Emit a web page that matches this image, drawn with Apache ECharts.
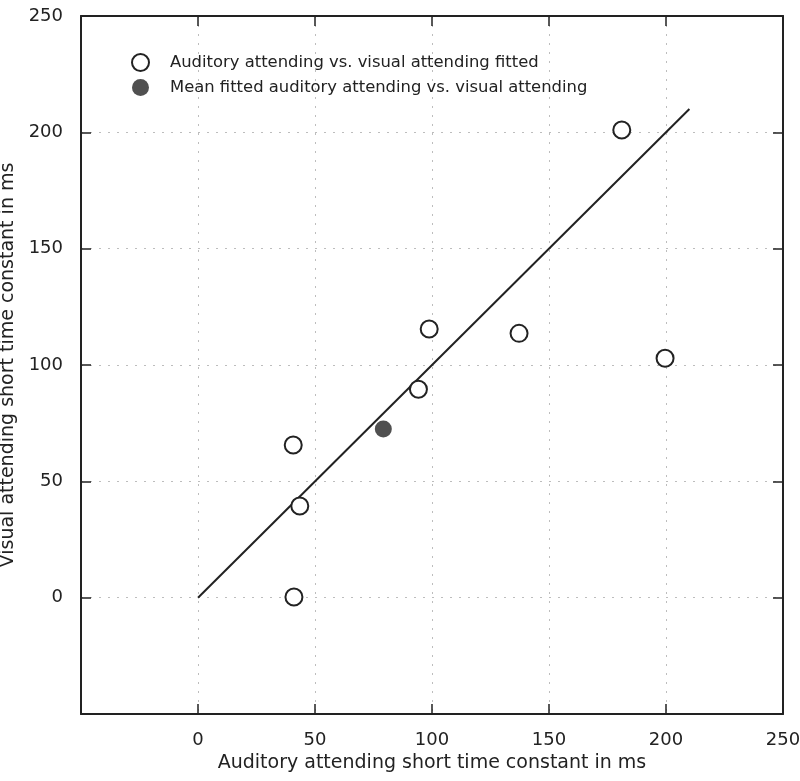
<!DOCTYPE html>
<html>
<head>
<meta charset="utf-8">
<script src="https://cdn.jsdelivr.net/npm/echarts@6/dist/echarts.min.js"></script>
<style>
  html, body { margin: 0; padding: 0; background: #fff; }
  #chart { width: 800px; height: 781px; }
</style>
</head>
<body>
<div id="chart"></div>
<script>
// ---- data ----
var seriesNames = ['Auditory attending vs. visual attending fitted', 'Mean fitted auditory attending vs. visual attending'];
var auditoryX = [41, 43.5, 40.7, 94.2, 98.8, 137.2, 181.1, 199.6];
var visualY   = [0.3, 39.4, 65.6, 89.6, 115.5, 113.6, 201.0, 102.9];
var meanX = [79.2];
var meanY = [72.5];
var fitX = [0, 210];
var fitY = [0, 210];
var tickValues = [-50, 0, 50, 100, 150, 200, 250];
var xTitle = 'Auditory attending short time constant in ms';
var yTitle = 'Visual attending short time constant in ms';

function zip(a, b) { return a.map(function (v, i) { return [v, b[i]]; }); }

var FONT = 'DejaVu Sans';
var INK = '#222';
var axMin = tickValues[0], axMax = tickValues[tickValues.length - 1];
var axInt = tickValues[1] - tickValues[0];

function labelFmt(v) { return v === axMin ? '' : String(v); }

var gridLine = { show: true, lineStyle: { color: '#bdbdbd', width: 1, type: [2, 7] } };
var frameLine = { show: true, onZero: false, lineStyle: { color: INK, width: 2 } };
var tickStyle = { show: true, inside: true, length: 10, lineStyle: { color: INK, width: 1.5 } };

var chart = echarts.init(document.getElementById('chart'));
chart.setOption({
  animation: false,
  backgroundColor: '#fff',
  textStyle: { fontFamily: FONT },
  grid: { left: 81, top: 16, right: 17, bottom: 67, show: false, containLabel: false, outerBoundsMode: 'none' },
  legend: {
    orient: 'vertical',
    left: 126,
    top: 48,
    itemWidth: 17,
    itemHeight: 17,
    itemGap: 7,
    icon: 'circle',
    textStyle: { fontFamily: FONT, fontSize: 16.4, color: INK, padding: [0, 0, 0, 16] },
    data: seriesNames
  },
  xAxis: [{
    type: 'value', position: 'bottom', min: axMin, max: axMax, interval: axInt,
    axisLine: frameLine,
    axisTick: tickStyle,
    axisLabel: { formatter: labelFmt, fontFamily: FONT, fontSize: 18, color: INK, margin: 17 },
    splitLine: gridLine,
    name: xTitle, nameLocation: 'middle', nameGap: 38,
    nameTextStyle: { fontFamily: FONT, fontSize: 19, color: INK }
  }, {
    type: 'value', position: 'top', min: axMin, max: axMax, interval: axInt,
    axisLine: frameLine,
    axisTick: tickStyle,
    axisLabel: { show: false },
    splitLine: { show: false }
  }],
  yAxis: [{
    type: 'value', position: 'left', min: axMin, max: axMax, interval: axInt,
    axisLine: frameLine,
    axisTick: tickStyle,
    axisLabel: { formatter: labelFmt, fontFamily: FONT, fontSize: 18, color: INK, margin: 18 },
    splitLine: gridLine,
    name: yTitle, nameLocation: 'middle', nameGap: 60,
    nameTextStyle: { fontFamily: FONT, fontSize: 19, color: INK }
  }, {
    type: 'value', position: 'right', min: axMin, max: axMax, interval: axInt,
    axisLine: frameLine,
    axisTick: tickStyle,
    axisLabel: { show: false },
    splitLine: { show: false }
  }],
  series: [{
    name: 'fit',
    type: 'line',
    data: zip(fitX, fitY),
    showSymbol: false,
    lineStyle: { color: INK, width: 2 },
    z: 2
  }, {
    name: seriesNames[0],
    type: 'scatter',
    data: zip(auditoryX, visualY),
    symbol: 'circle',
    symbolSize: 17,
    itemStyle: { color: '#fff', borderColor: INK, borderWidth: 2, opacity: 1 },
    z: 3
  }, {
    name: seriesNames[1],
    type: 'scatter',
    data: zip(meanX, meanY),
    symbol: 'circle',
    symbolSize: 17,
    itemStyle: { color: '#505050', borderColor: '#505050', borderWidth: 0, opacity: 1 },
    z: 3
  }]
});
</script>
</body>
</html>
